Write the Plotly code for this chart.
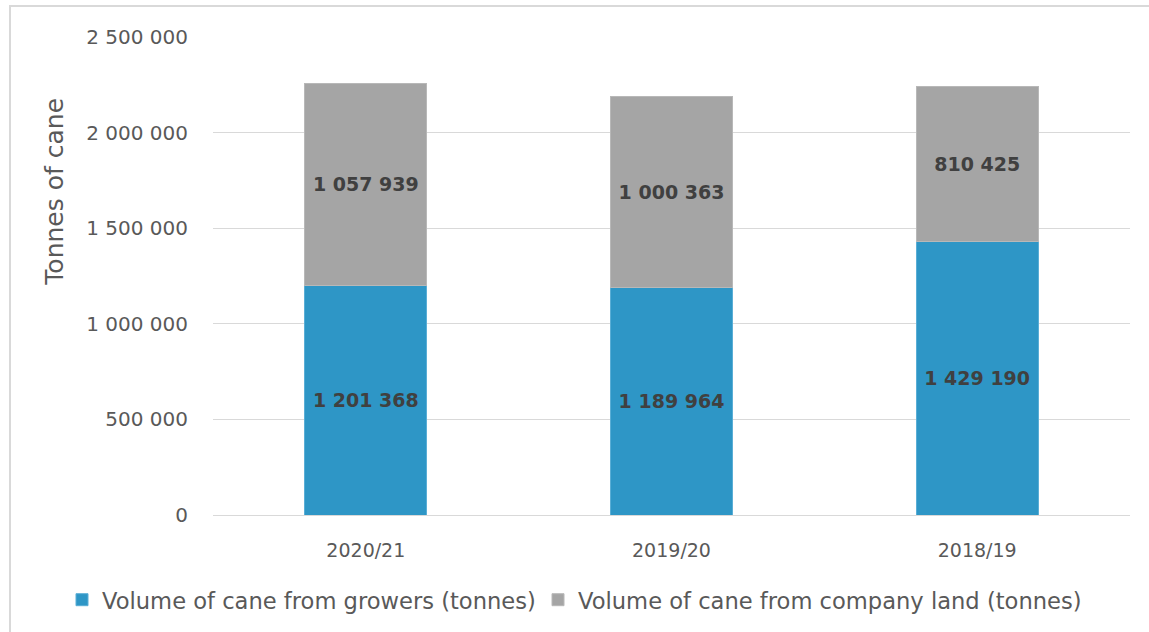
import plotly.graph_objects as go

seasons = ["2020/21", "2019/20", "2018/19"]
growers = [1201368, 1189964, 1429190]
company_land = [1057939, 1000363, 810425]
y_ticks = [0, 500000, 1000000, 1500000, 2000000, 2500000]

def fmt(v):
    return f"{v:,}".replace(",", " ")

FONT = "DejaVu Sans"
TEXT = "#595959"
LABEL = "#404040"

W, H = 1149, 632
L, R, T, B = 213, 19, 37, 116
pw, ph = W - L - R, H - T - B

def px(x):
    return (x - L) / pw

def py(y):
    return (H - B - y) / ph

fig = go.Figure()
fig.add_trace(go.Bar(
    x=seasons, y=growers, name="Volume of cane from growers (tonnes)",
    marker=dict(color="#2E96C6", line=dict(color="#5AAED6", width=1)),
    text=[fmt(v) for v in growers], textposition="inside", insidetextanchor="middle",
    textfont=dict(family=FONT, size=19, color=LABEL, weight="bold"),
    legend="legend",
))
fig.add_trace(go.Bar(
    x=seasons, y=company_land, name="Volume of cane from company land (tonnes)",
    marker=dict(color="#A5A5A5", line=dict(color="#B8B8B8", width=1)),
    text=[fmt(v) for v in company_land], textposition="inside", insidetextanchor="middle",
    textfont=dict(family=FONT, size=19, color=LABEL, weight="bold"),
    legend="legend2",
))

legend_style = dict(orientation="h", yanchor="middle", y=py(600), xanchor="left",
                    font=dict(size=22.6, color=TEXT), itemwidth=30,
                    bgcolor="rgba(0,0,0,0)")

fig.update_layout(
    width=W, height=H,
    margin=dict(l=L, r=R, t=T, b=B),
    barmode="stack", bargap=0.6,
    plot_bgcolor="white", paper_bgcolor="white",
    font=dict(family=FONT, color=TEXT, size=18),
    showlegend=True,
    legend=dict(legend_style, x=px(62)),
    legend2=dict(legend_style, x=px(538)),
    shapes=[dict(type="rect", xref="paper", yref="paper",
                 x0=px(10), x1=px(1160), y0=py(645), y1=py(6),
                 line=dict(color="#D9D9D9", width=2), layer="below")],
    annotations=[dict(text="Tonnes of cane", textangle=-90, showarrow=False,
                      xref="paper", yref="paper", x=px(55), y=py(192),
                      xanchor="center", yanchor="middle",
                      font=dict(size=25, color=TEXT))],
)
fig.update_yaxes(
    range=[0, 2500000], tickvals=y_ticks, ticktext=[fmt(v) for v in y_ticks],
    showgrid=True, gridcolor="#D9D9D9", gridwidth=1,
    zeroline=False, showline=False,
    ticks="outside", ticklen=20, tickcolor="rgba(0,0,0,0)",
    tickfont=dict(size=20, color=TEXT),
)
fig.update_xaxes(
    showline=True, linecolor="#D9D9D9", linewidth=1,
    ticks="outside", ticklen=18, tickcolor="rgba(0,0,0,0)",
    tickfont=dict(size=19, color=TEXT),
)

fig.write_html("out.html")
